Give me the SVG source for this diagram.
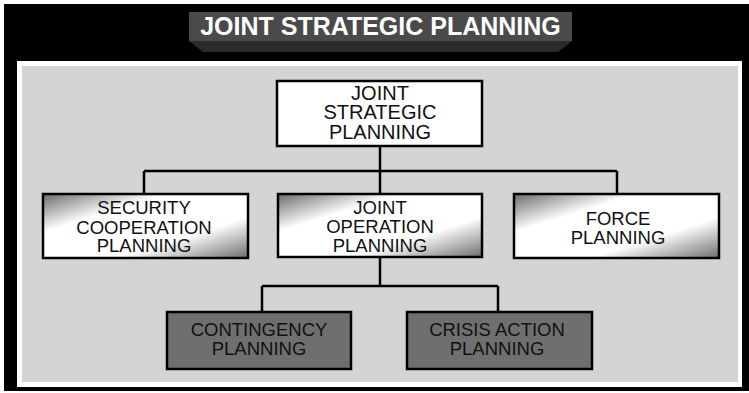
<svg xmlns="http://www.w3.org/2000/svg" width="749" height="393" viewBox="0 0 749 393">
<defs>
<linearGradient id="metal" x1="0" y1="0" x2="1" y2="1">
<stop offset="0" stop-color="#6a6a6a"/>
<stop offset="0.3" stop-color="#ffffff"/>
<stop offset="0.68" stop-color="#ffffff"/>
<stop offset="1" stop-color="#6e6e6e"/>
</linearGradient>
</defs>
<style>
.box{stroke:#000;stroke-width:2.5}
.white{fill:#fff}
.metal{fill:url(#metal)}
.dark{fill:#6f6f6f}
.t{font-family:"Liberation Sans",Arial,sans-serif;font-size:18.5px;fill:#111;text-anchor:middle}
.big{font-size:20px}
.conn{fill:none;stroke:#000;stroke-width:2.5}
</style>
<rect x="0" y="0" width="749" height="393" fill="#fff"/>
<rect x="4" y="4" width="745" height="387" fill="#000"/>
<rect x="17" y="61" width="725" height="326" fill="#fff"/>
<rect x="22" y="66" width="716" height="316" fill="#d3d4d5"/>
<g id="title">
<polygon points="189,41 572,41 558,52 203,52" fill="#2b2b2b"/>
<rect x="189" y="12" width="383" height="29" fill="#4a4a4a"/>
<text x="380.5" y="35" font-family="'Liberation Sans',Arial,sans-serif" font-weight="bold" font-size="25" fill="#fff" text-anchor="middle">JOINT STRATEGIC PLANNING</text>
</g>
<g id="connectors">
<path class="conn" d="M380 146 V171 M144 171 H617 M144 171 V194 M380 171 V194 M617 171 V194"/>
<path class="conn" d="M380 258 V286 M262 286 H498 M262 286 V312 M498 286 V312"/>
</g>
<g id="jsp">
<rect class="box white" x="277" y="81" width="205" height="65"/>
<text class="t big" x="380" y="99.5">JOINT<tspan x="380" dy="19.5">STRATEGIC</tspan><tspan x="380" dy="19.5">PLANNING</tspan></text>
</g>
<g id="scp">
<rect class="box metal" x="43" y="194" width="205" height="64"/>
<text class="t" x="144" y="214">SECURITY<tspan x="144" dy="19.5">COOPERATION</tspan><tspan x="144" dy="18.5">PLANNING</tspan></text>
</g>
<g id="jop">
<rect class="box metal" x="278" y="194" width="204" height="63"/>
<text class="t" x="380" y="214">JOINT<tspan x="380" dy="19">OPERATION</tspan><tspan x="380" dy="19">PLANNING</tspan></text>
</g>
<g id="fp">
<rect class="box metal" x="514" y="194" width="205" height="64"/>
<text class="t" x="618" y="225">FORCE<tspan x="618" dy="18.5">PLANNING</tspan></text>
</g>
<g id="cp">
<rect class="box dark" x="167" y="312" width="184" height="57"/>
<text class="t" x="259" y="336">CONTINGENCY<tspan x="259" dy="19">PLANNING</tspan></text>
</g>
<g id="cap">
<rect class="box dark" x="407" y="312" width="185" height="57"/>
<text class="t" x="497" y="336">CRISIS ACTION<tspan x="497" dy="19">PLANNING</tspan></text>
</g>
</svg>
